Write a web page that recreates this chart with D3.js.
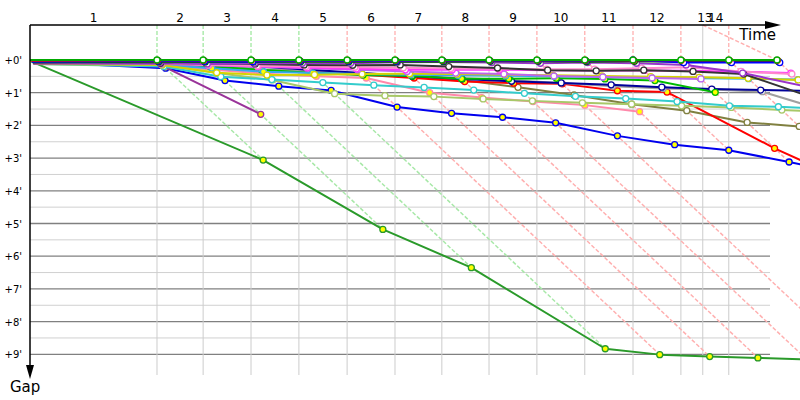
<!DOCTYPE html>
<html><head><meta charset="utf-8">
<script src="https://cdn.jsdelivr.net/npm/d3@7"></script>
<style>body{margin:0;background:#fff}text{font-family:"DejaVu Sans",Verdana,sans-serif}</style>
</head><body><svg id="c" width="800" height="400"></svg>
<script>
// ---- data (minutes) ----
const lapTimes = [0, 3.66, 4.99, 6.37, 7.75, 9.14, 10.52, 11.87, 13.23, 14.61, 15.99, 17.38, 18.76, 20.14, 21.53, 22.91];
const lapLabels = ["1","2","3","4","5","6","7","8","9","10","11","12","13","14"];
const labelStart = [0, 3.66, 4.99, 6.37, 7.75, 9.14, 10.52, 11.87, 13.23, 14.61, 15.99, 17.38, 18.76, 19.39];
const labelEnd   = [3.66, 4.99, 6.37, 7.75, 9.14, 10.52, 11.87, 13.23, 14.61, 15.99, 17.38, 18.76, 20.14, 20.14];
const gridTimes  = [3.66, 4.99, 6.37, 7.75, 9.14, 10.52, 11.87, 13.23, 14.61, 15.99, 17.38, 18.76, 19.39, 20.14];
const gridKind   = ["g","g","g","g","r","r","r","r","r","r","r","r","n","r"];
const gapTicks = [0,1,2,3,4,5,6,7,8,9];
const gapTickLabels = ["+0'","+1'","+2'","+3'","+4'","+5'","+6'","+7'","+8'","+9'"];

// rider gaps per lap crossing (index 0 = start)
const riderNames = ["greenBig","blueLow","purpleDrop","olive","red","pinkLow","lightGreen","cyan","gray","navy","brightGreen","lightBlue","yellow","violet","magenta","pinkUp","black","purple","darkGreen","blueTop","leaderRed","leaderGreen"];
const riderColors = ["#2a9a2a","#0000ee","#993399","#808040","#ff0000","#ff88aa","#a8c868","#33cccc","#a0a0a0","#000099","#00bb00","#33aaee","#d4d400","#bb66ee","#ff33ff","#ff88cc","#333333","#9933cc","#006600","#0000ff","#ff0000","#00aa00"];
const riderFill = ["yellow","yellow","yellow","white","yellow","yellow","white","white","white","white","yellow","yellow","white","white","white","white","white","white","white","white","white","white"];
const riderGaps = [
  [0.05,3.06,5.18,6.35,8.83,9.01,9.07,9.11,9.16,9.2],
  [0.05,0.25,0.63,0.80,0.93,1.44,1.63,1.75,1.92,2.32,2.59,2.76,3.12,3.5,3.8],
  [0.08,0.2,1.66],
  [0.1,0.1,0.2,0.3,0.35,0.42,0.5,0.62,0.835,1.07,1.35,1.55,1.91,2.03,2.15],
  [0.1,0.1,0.2,0.3,0.36,0.45,0.55,0.66,0.71,0.73,0.94,0.98,2.70,4.0],
  [0.1,0.15,0.3,0.42,0.5,0.55,1.0,1.15,1.27,1.38,1.58],
  [0.12,0.15,0.4,0.61,1.03,1.09,1.12,1.19,1.25,1.31,1.35,1.40,1.45,1.53,1.6],
  [0.12,0.2,0.51,0.6,0.69,0.77,0.84,0.92,1.02,1.11,1.18,1.27,1.40,1.43,1.5],
  [0.1,0.12,0.2,0.28,0.35,0.4,0.48,0.55,0.62,0.7,0.8,0.87,0.9,0.97,1.63],
  [0.1,0.1,0.15,0.2,0.3,0.4,0.5,0.58,0.65,0.7,0.76,0.83,0.89,0.92,0.95],
  [0.05,0.05,0.2,0.3,0.4,0.46,0.49,0.57,0.57,0.56,0.58,0.63,0.99],
  [0.1,0.15,0.25,0.36,0.4,0.43,0.45,0.47,0.48,0.5,0.52,0.54,0.56,0.57,0.6],
  [0.12,0.15,0.39,0.46,0.45,0.43,0.42,0.43,0.45,0.47,0.49,0.51,0.53,0.56,0.61],
  [0.1,0.12,0.16,0.2,0.25,0.3,0.35,0.4,0.43,0.49,0.52,0.55,0.58],
  [0.1,0.1,0.14,0.2,0.24,0.27,0.3,0.3,0.3,0.31,0.32,0.32,0.33,0.36,0.4],
  [0.1,0.1,0.15,0.18,0.2,0.22,0.24,0.26,0.27,0.28,0.28,0.25,0.22,0.35,0.43],
  [0.1,0.1,0.1,0.12,0.15,0.16,0.15,0.2,0.245,0.31,0.33,0.31,0.35,0.43,1.22],
  [0.1,0.08,0.12,0.1,0.1,0.1,0.07,0.06,0.08,0.1,0.08,0.1,0.15,0.4,0.8],
  [0.08,0.05,0.06,0.06,0.05,0.05,0.05,0.05,0.04,0.04,0.05,0.04,0.05,0.05,0.05],
  [0.05,0.03,0.04,0.05,0.03,0.03,0.03,0.02,0.02,0.02,0.02,0.0,0.08,0.08,0.08],
  [0.02,0.01,0.01,0.01,0.01,0.01,0.01,0.01,0.01,0.01,0.01,0.01,0.01,0.01,0.01],
  [0,0,0,0,0,0,0,0,0,0,0,0,0,0,0]
];

// ---- drawing ----
const svg = d3.select("#c");
const x = d3.scaleLinear().domain([0, 21.53]).range([30, 777]);
const y = d3.scaleLinear().domain([0, 9]).range([60, 354.3]);
const TOP = 25, BOTTOM = 375, GRID_RIGHT = 770;

// horizontal grid
const hTicks = d3.range(0, 9.01, 0.5);
svg.append("g").selectAll("line").data(hTicks).join("line")
  .attr("x1", 30).attr("x2", GRID_RIGHT)
  .attr("y1", d => y(d)).attr("y2", d => y(d))
  .attr("stroke", d => Number.isInteger(d) ? "#808080" : "#d0d0d0")
  .attr("stroke-width", d => Number.isInteger(d) ? 1.3 : 1);

// vertical grid
svg.append("g").selectAll("line").data(gridTimes).join("line")
  .attr("x1", d => x(d)).attr("x2", d => x(d))
  .attr("y1", (d, i) => gridKind[i] === "n" ? TOP : y(0)).attr("y2", BOTTOM)
  .attr("stroke", "#cccccc").attr("stroke-width", 1);
svg.append("g").selectAll("line").data(gridTimes.filter((d, i) => gridKind[i] !== "n")).join("line")
  .attr("x1", d => x(d)).attr("x2", d => x(d))
  .attr("y1", TOP).attr("y2", y(0))
  .attr("stroke", d => gridKind[gridTimes.indexOf(d)] === "g" ? "#99e699" : "#ffaaaa")
  .attr("stroke-width", 1.2).attr("stroke-dasharray", "4,2");

// diagonal dashed lines: from leader crossing to slowest crossing of the same lap
const diag = [];
for (let k = 1; k < lapTimes.length; k++) {
  const gs = riderGaps.map(r => r[k]).filter(v => v !== undefined && v !== null);
  if (!gs.length) continue;
  const G = d3.max(gs);
  diag.push({k, t0: lapTimes[k], G: Math.max(G, 0.01), kind: k <= 4 ? "g" : "r"});
}
svg.append("g").selectAll("line").data(diag).join("line")
  .attr("x1", d => x(d.t0)).attr("y1", y(0))
  .attr("x2", d => x(d.t0 + d.G)).attr("y2", d => y(d.G))
  .attr("stroke", d => d.kind === "g" ? "#a8e8a8" : "#ffb0b0")
  .attr("stroke-width", 1.5).attr("stroke-dasharray", "4,2");
// special projection line (13/14)
svg.append("line")
  .attr("x1", x(labelStart[13])).attr("y1", TOP)
  .attr("x2", x(lapTimes[14])).attr("y2", y(0))
  .attr("stroke", "#ffb0b0").attr("stroke-width", 1.5).attr("stroke-dasharray", "4,2");

// rider lines
const line = d3.line().x(d => x(d.t)).y(d => y(d.g));
const riders = riderGaps.map((gaps, i) => ({
  name: riderNames[i], color: riderColors[i], fill: riderFill[i],
  pts: gaps.map((g, k) => ({t: lapTimes[k] + g, g, k}))
}));
const rg = svg.append("g").selectAll("g").data(riders).join("g");
rg.append("path").attr("d", d => line(d.pts))
  .attr("fill", "none").attr("stroke", d => d.color).attr("stroke-width", 2)
  .attr("stroke-linejoin", "round");
rg.selectAll("circle").data(d => d.pts.filter(p => p.k > 0).map(p => ({...p, c: d.color, f: d.fill}))).join("circle")
  .attr("cx", d => x(d.t)).attr("cy", d => y(d.g)).attr("r", 3)
  .attr("fill", d => d.f).attr("stroke", d => d.c).attr("stroke-width", 1.3);

// axes
svg.append("line").attr("x1", 30).attr("x2", 768).attr("y1", TOP).attr("y2", TOP)
  .attr("stroke", "#000").attr("stroke-width", 1.5);
svg.append("path").attr("d", `M765,${TOP-4}L781,${TOP}L765,${TOP+4}Z`).attr("fill", "#000");
svg.append("line").attr("x1", 30).attr("x2", 30).attr("y1", TOP).attr("y2", 368)
  .attr("stroke", "#000").attr("stroke-width", 1.5);
svg.append("path").attr("d", `M26,365L30,379L34,365Z`).attr("fill", "#000");

svg.append("g").selectAll("text").data(lapLabels).join("text")
  .attr("x", (d, i) => (x(labelStart[i]) + x(labelEnd[i])) / 2).attr("y", 22)
  .attr("text-anchor", "middle").attr("font-size", 12).text(d => d);
svg.append("g").selectAll("text").data(gapTicks).join("text")
  .attr("x", 22).attr("y", d => y(d) + 4)
  .attr("text-anchor", "end").attr("font-size", 10).text((d, i) => gapTickLabels[i]);
svg.append("text").attr("x", 776).attr("y", 40).attr("text-anchor", "end").attr("font-size", 15).text("Time");
svg.append("text").attr("x", 10).attr("y", 392).attr("font-size", 15).text("Gap");
</script></body></html>
